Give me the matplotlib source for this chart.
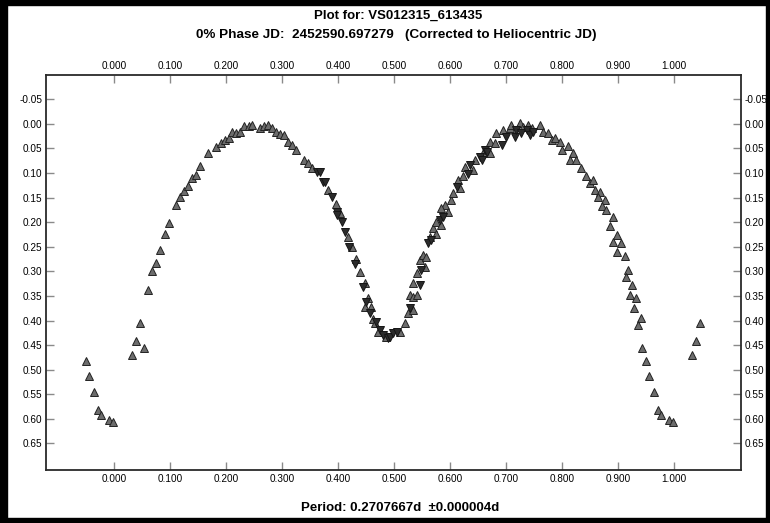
import matplotlib.pyplot as plt
import numpy as np
from matplotlib.patches import Rectangle

# phase / magnitude readings, main (grey, up triangles) data set
phase_a = [0.033, 0.040, 0.047, 0.054, 0.061, 0.069, 0.076, 0.083, 0.091, 0.098,
           0.111, 0.118, 0.126, 0.133, 0.140, 0.147, 0.154, 0.168, 0.183, 0.192,
           0.199, 0.205, 0.211, 0.219, 0.226, 0.232, 0.241, 0.247, 0.261, 0.268,
           0.275, 0.282, 0.290, 0.297, 0.304, 0.311, 0.319, 0.326, 0.340, 0.347,
           0.354, 0.383, 0.396, 0.404, 0.418, 0.426, 0.433, 0.439, 0.448, 0.454,
           0.448, 0.460, 0.463, 0.466, 0.472, 0.486, 0.511, 0.520, 0.526, 0.534,
           0.529, 0.534, 0.541, 0.534, 0.541, 0.555, 0.546, 0.552, 0.558, 0.564,
           0.570, 0.576, 0.576, 0.585, 0.591, 0.597, 0.585, 0.603, 0.606, 0.615,
           0.618, 0.624, 0.627, 0.642, 0.645, 0.659, 0.671, 0.671, 0.680, 0.683,
           0.695, 0.707, 0.710, 0.725, 0.731, 0.740, 0.746, 0.761, 0.767, 0.776,
           0.782, 0.788, 0.796, 0.800, 0.811, 0.820, 0.814, 0.826, 0.835, 0.844,
           0.850, 0.856, 0.859, 0.868, 0.865, 0.877, 0.871, 0.879, 0.891, 0.886,
           0.898, 0.892, 0.905, 0.899, 0.913, 0.918, 0.915, 0.926, 0.922, 0.933,
           0.929, 0.941, 0.936, 0.943, 0.950, 0.956, 0.964, 0.971, 0.978, 0.992,
           0.999]
mag_a = [0.471, 0.442, 0.405, 0.456, 0.338, 0.299, 0.282, 0.256, 0.224, 0.202,
         0.164, 0.149, 0.137, 0.127, 0.110, 0.105, 0.086, 0.059, 0.047, 0.039,
         0.033, 0.029, 0.016, 0.019, 0.016, 0.004, 0.005, 0.002, 0.008, 0.004,
         0.003, 0.009, 0.017, 0.021, 0.022, 0.037, 0.042, 0.053, 0.073, 0.080,
         0.090, 0.135, 0.162, 0.182, 0.230, 0.250, 0.274, 0.301, 0.324, 0.355,
         0.372, 0.372, 0.396, 0.406, 0.423, 0.433, 0.423, 0.405, 0.385, 0.379,
         0.348, 0.352, 0.348, 0.324, 0.304, 0.291, 0.277, 0.267, 0.270, 0.230,
         0.212, 0.223, 0.199, 0.206, 0.165, 0.179, 0.172, 0.155, 0.141, 0.114,
         0.131, 0.107, 0.087, 0.094, 0.073, 0.060, 0.060, 0.036, 0.039, 0.019,
         0.012, 0.009, 0.002, -0.001, 0.006, 0.002, 0.009, 0.002, 0.016, 0.019,
         0.033, 0.029, 0.036, 0.053, 0.046, 0.060, 0.073, 0.073, 0.090, 0.107,
         0.121, 0.114, 0.135, 0.138, 0.148, 0.155, 0.168, 0.175, 0.189, 0.208,
         0.226, 0.240, 0.243, 0.260, 0.269, 0.297, 0.312, 0.328, 0.348, 0.354,
         0.374, 0.394, 0.410, 0.456, 0.482, 0.513, 0.545, 0.581, 0.593, 0.602,
         0.607]

# second data set (dark, down triangles)
phase_b = [0.363, 0.368, 0.374, 0.377, 0.389, 0.398, 0.399, 0.407, 0.413, 0.420,
           0.430, 0.445, 0.451, 0.457, 0.469, 0.475, 0.481, 0.490, 0.493, 0.499,
           0.505, 0.529, 0.546, 0.549, 0.561, 0.567, 0.582, 0.588, 0.612, 0.633,
           0.636, 0.654, 0.657, 0.663, 0.666, 0.693, 0.701, 0.716, 0.719, 0.728,
           0.737, 0.743, 0.749]
mag_b = [0.097, 0.098, 0.118, 0.119, 0.148, 0.179, 0.185, 0.199, 0.219, 0.250,
         0.284, 0.331, 0.362, 0.385, 0.403, 0.419, 0.430, 0.436, 0.434, 0.426,
         0.423, 0.375, 0.328, 0.297, 0.243, 0.236, 0.196, 0.189, 0.128, 0.101,
         0.084, 0.067, 0.073, 0.053, 0.057, 0.043, 0.026, 0.026, 0.012, 0.019,
         0.012, 0.023, 0.016]

x_ticks = [0.0, 0.1, 0.2, 0.3, 0.4, 0.5, 0.6, 0.7, 0.8, 0.9, 1.0]
y_ticks = [-0.05, 0.0, 0.05, 0.1, 0.15, 0.2, 0.25, 0.3, 0.35, 0.4, 0.45, 0.5,
           0.55, 0.6, 0.65]

title_1 = "Plot for: VS012315_613435"
title_2 = "0% Phase JD:  2452590.697279   (Corrected to Heliocentric JD)"
footer = "Period: 0.2707667d  \u00b10.000004d"


def wrapped(ph, mg):
    # repeat the ends of the cycle on both sides, as the phase plot does
    ph = np.array(ph)
    mg = np.array(mg)
    lo = ph >= 0.95
    hi = ph < 0.05
    return (np.concatenate([ph, ph[lo] - 1, ph[hi] + 1]),
            np.concatenate([mg, mg[lo], mg[hi]]))


plt.rcParams['font.family'] = ['Liberation Sans', 'DejaVu Sans']

fig = plt.figure(figsize=(7.7, 5.23), dpi=100)
ax = fig.add_axes([46 / 770, 1 - 470 / 523, 695 / 770, 395.3 / 523])

xa, ya = wrapped(phase_a, mag_a)
xb, yb = wrapped(phase_b, mag_b)
ax.plot(xa, ya, '^', ms=5.6, mfc='#6c6c6c', mec='#222222', mew=0.7, zorder=3)
ax.plot(xb, yb, 'v', ms=5.6, mfc='#2b2b2b', mec='#151515', mew=0.7, zorder=4)

ax.set_xlim(-0.121, 1.12)
ax.set_ylim(0.704, -0.100)
ax.set_xticks(x_ticks)
ax.set_xticklabels([f"{t:.3f}" for t in x_ticks])
ax.set_yticks(y_ticks)
ax.set_yticklabels([f"{t:.2f}" for t in y_ticks])

ax.tick_params(axis='both', direction='in', length=5.5, width=1, color='#8a8a8a',
               labelsize=7.2, top=True, right=True, labeltop=True, labelright=True)
ax.tick_params(axis='x', pad=3)
ax.tick_params(axis='y', pad=2.5)
for s in ax.spines.values():
    s.set_color('#2a2a2a')
    s.set_linewidth(1.3)

fig.text(0.517, 0.969, title_1, ha='center', va='center', fontsize=9.5, fontweight='bold')
fig.text(0.514, 0.933, title_2, ha='center', va='center', fontsize=9.7, fontweight='bold')
fig.text(0.519, 0.028, footer, ha='center', va='center', fontsize=9.5, fontweight='bold')

# black frame around the whole picture
for (x0, y0, w, h) in [(0, 0, 7 / 770, 1), (0, 1 - 5 / 523, 1, 5 / 523),
                       (1 - 4 / 770, 0, 4 / 770, 1), (0, 0, 1, 5 / 523)]:
    fig.patches.append(Rectangle((x0, y0), w, h, transform=fig.transFigure,
                                 color='black', zorder=10))

fig.savefig("out.png", dpi=100)
